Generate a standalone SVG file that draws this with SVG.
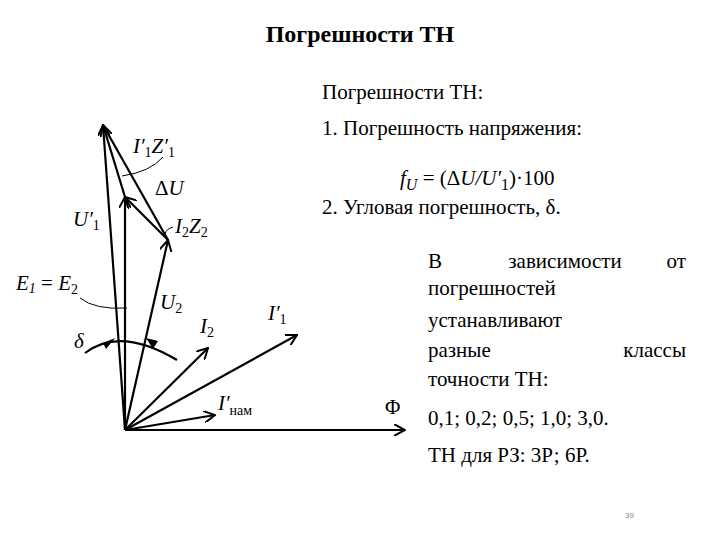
<svg xmlns="http://www.w3.org/2000/svg" width="720" height="540" viewBox="0 0 720 540">
<style>
.t{font-size:21px;fill:#000}
.m{font-style:italic;font-size:21px;fill:#000}
.v{stroke:#000;stroke-width:2.2;fill:none}
.l{stroke:#000;stroke-width:1;fill:none}
</style>
<defs>
<marker id="a" viewBox="0 0 12 12" refX="11" refY="6" markerWidth="12" markerHeight="12" markerUnits="userSpaceOnUse" orient="auto"><path d="M0,0 L11,6 L0,12" fill="none" stroke="#000" stroke-width="2"/></marker>
</defs>
<rect width="720" height="540" fill="#fff"/>
<g font-family="Liberation Serif">
<text x="360" y="42" text-anchor="middle" font-weight="bold" font-size="24">Погрешности ТН</text>
<g id="connectors">
<line class="v" x1="125" y1="430" x2="103" y2="125" marker-end="url(#a)"/>
<line class="v" x1="125" y1="430" x2="125" y2="197" marker-end="url(#a)"/>
<line class="v" x1="125" y1="430" x2="168" y2="240" marker-end="url(#a)"/>
<line class="v" x1="168" y1="240" x2="125" y2="197" marker-end="url(#a)"/>
<line class="v" x1="125" y1="197" x2="103" y2="125" marker-end="url(#a)"/>
<line class="v" x1="168" y1="240" x2="103" y2="125"/>
<line class="v" x1="125" y1="430" x2="208" y2="348" marker-end="url(#a)"/>
<line class="v" x1="125" y1="430" x2="297" y2="335" marker-end="url(#a)"/>
<line class="v" x1="125" y1="430" x2="215" y2="415" marker-end="url(#a)"/>
<line class="v" x1="125" y1="430" x2="405" y2="430" marker-end="url(#a)"/>
<path class="v" d="M85,353 Q120,326 177,360"/>
<path d="M103,343 L115,338 L106,349 z" fill="#000"/>
<path d="M158,341 L146,338 L153,349 z" fill="#000"/>
<path class="l" d="M80,298 Q95,310 127,308"/>
<path class="l" d="M163,157 Q150,172 122,176"/>
<path class="l" d="M173,227 Q166,229 165,234"/>
</g>
<g id="labels">
<text class="m" x="133" y="153">I′<tspan font-size="14" font-style="normal" dy="4">1</tspan><tspan dy="-4">Z′</tspan><tspan font-size="14" font-style="normal" dy="4">1</tspan></text>
<text class="m" x="155" y="195"><tspan font-style="normal">Δ</tspan>U</text>
<text class="m" x="73" y="226">U′<tspan font-size="14" font-style="normal" dy="4">1</tspan></text>
<text class="m" x="175" y="233">I<tspan font-size="14" font-style="normal" dy="4">2</tspan><tspan dy="-4">Z</tspan><tspan font-size="14" font-style="normal" dy="4">2</tspan></text>
<text class="m" x="16" y="290">E<tspan font-size="14" dy="3">1</tspan><tspan dy="-3" font-style="normal"> = </tspan>E<tspan font-size="14" font-style="normal" dy="4">2</tspan></text>
<text class="m" x="160" y="309">U<tspan font-size="14" font-style="normal" dy="4">2</tspan></text>
<text class="m" x="200" y="333">I<tspan font-size="14" font-style="normal" dy="4">2</tspan></text>
<text class="m" x="268" y="320">I′<tspan font-size="14" font-style="normal" dy="4">1</tspan></text>
<text class="m" x="74" y="348">δ</text>
<text class="m" x="218" y="410">I′<tspan font-size="14" font-style="normal" dy="5">нам</tspan></text>
<text class="t" x="385" y="414">Φ</text>
</g>
<g id="text">
<text class="t" x="322" y="99">Погрешности ТН:</text>
<text class="t" x="322" y="135">1.  Погрешность напряжения:</text>
<text class="m" x="400" y="185" font-size="25">f<tspan font-size="16" dy="5">U</tspan><tspan font-style="normal" dy="-5"> = (Δ</tspan>U/U′<tspan font-style="normal" font-size="16" dy="5">1</tspan><tspan font-style="normal" dy="-5">)·100</tspan></text>
<text class="t" x="322" y="214">2.  Угловая погрешность, δ.</text>
<text class="t" x="428" y="268">В</text>
<text class="t" x="565" y="268" text-anchor="middle">зависимости</text>
<text class="t" x="686" y="268" text-anchor="end">от</text>
<text class="t" x="428" y="295">погрешностей</text>
<text class="t" x="428" y="327">устанавливают</text>
<text class="t" x="428" y="357">разные</text>
<text class="t" x="686" y="357" text-anchor="end">классы</text>
<text class="t" x="428" y="386">точности ТН:</text>
<text class="t" x="428" y="425">0,1; 0,2; 0,5; 1,0; 3,0.</text>
<text class="t" x="428" y="462">ТН для РЗ: 3Р; 6Р.</text>
<text x="625" y="518" font-family="Liberation Sans" font-size="8" fill="#888">39</text>
</g>
</g>
</svg>
